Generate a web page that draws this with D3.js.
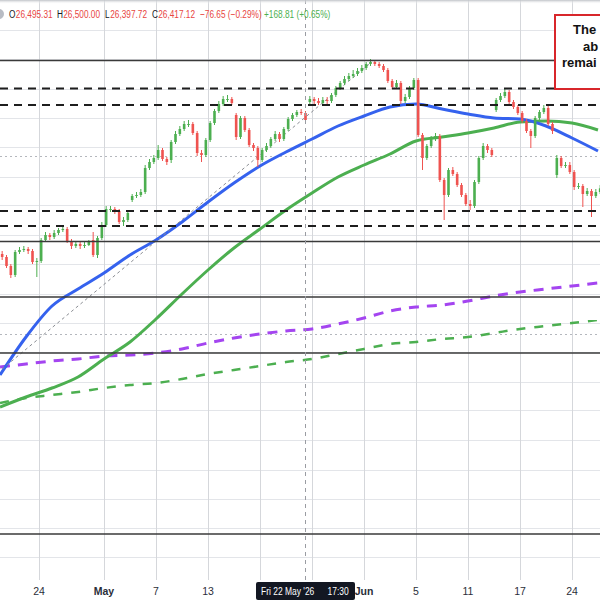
<!DOCTYPE html>
<html><head><meta charset="utf-8">
<script src="https://cdn.jsdelivr.net/npm/d3@7"></script>
<style>html,body{margin:0;padding:0;background:#fff;}svg{display:block;}</style>
</head><body>
<svg id="c" width="600" height="600"></svg>
<script>
// ---------- DATA ----------
const barsPerDay = 3;          // candles per trading day
const firstDay = -3;           // trading-day index of first visible bar (0 = Fri 24 Apr)
const opens = [25760,25730,25640,25550,25780,25800,25810,25790,25680,25690,
25900,25950,25930,25970,26000,26010,25890,25840,25860,25840,
25850,25900,25750,25920,26050,26210,26210,26190,26080,26100,
26300,26340,26350,26380,26620,26680,26720,26800,26710,26700,
26880,26960,27010,27060,27060,26970,26770,26750,26900,27070,
27190,27260,27310,27310,27150,26930,27120,27000,26850,26820,
26700,26800,26840,26910,26960,26910,27010,27110,27150,27180,
27170,27280,27310,27290,27270,27300,27290,27350,27420,27470,
27510,27540,27560,27590,27620,27660,27680,27660,27640,27600,
27490,27430,27470,27290,27330,27420,27500,26950,26720,26840,
26910,26940,26500,26350,26600,26560,26450,26350,26260,26240,
26480,26720,26840,26800,27200,27300,27340,27380,27280,27230,
27170,27090,26990,26940,27120,27180,27220,27060,26550,26720,
26640,26650,26580,26430,26440,26360,26390,26340,26380];
const highs = [25790,25750,25660,25800,25830,25840,25830,25810,25720,25920,
25980,25970,26000,26020,26040,26030,25910,25890,25880,25880,
25900,25980,25940,26080,26240,26240,26230,26210,26130,26190,
26360,26380,26410,26650,26710,26750,26850,26820,26730,26900,
26990,27040,27090,27100,27080,26990,26800,26920,27090,27210,
27290,27340,27350,27330,27170,27140,27140,27020,26870,26840,
26820,26870,26930,26990,26980,27030,27130,27170,27200,27210,
27190,27340,27330,27320,27330,27330,27370,27440,27490,27540,
27570,27600,27620,27650,27680,27710,27700,27680,27660,27620,
27510,27500,27490,27360,27440,27520,27520,26970,26860,26940,
26970,26960,26520,26620,26630,26580,26470,26370,26300,26500,
26740,26870,26860,26820,27320,27370,27420,27400,27300,27250,
27190,27110,27010,27140,27200,27250,27240,27080,26750,26740,
26680,26680,26600,26470,26460,26420,26410,26410,26450];
const lows = [25700,25620,25520,25530,25760,25780,25760,25660,25530,25670,
25890,25900,25910,25950,25980,25870,25810,25820,25810,25820,
25840,25730,25720,25900,26030,26180,26160,26060,26040,26080,
26280,26320,26330,26360,26600,26660,26700,26690,26650,26670,
26860,26940,26990,27030,26950,26740,26680,26730,26880,27050,
27170,27240,27280,27250,26900,26910,26980,26830,26790,26630,
26680,26780,26820,26890,26880,26890,26990,27090,27130,27150,
27080,27260,27260,27250,27250,27260,27270,27330,27400,27450,
27490,27520,27540,27570,27600,27640,27640,27620,27580,27470,
27410,27410,27260,27270,27310,27400,26930,26600,26700,26820,
26890,26480,26100,26330,26540,26430,26330,26240,26200,26220,
26460,26700,26770,26730,27180,27280,27320,27260,27210,27150,
27070,26970,26820,26920,27100,27160,27040,26960,26520,26620,
26620,26560,26400,26410,26230,26340,26130,26320,26360];
const closes = [25730,25640,25550,25780,25800,25810,25790,25680,25690,25900,
25950,25930,25970,26000,26010,25890,25840,25860,25840,25850,
25880,25750,25920,26050,26210,26210,26190,26080,26100,26170,
26340,26350,26380,26620,26680,26720,26800,26710,26680,26880,
26960,27010,27060,27060,26970,26770,26750,26900,27070,27190,
27260,27310,27310,27270,26930,27120,27000,26850,26820,26700,
26800,26840,26910,26960,26910,27010,27110,27150,27180,27170,
27100,27310,27290,27270,27300,27290,27350,27420,27470,27510,
27540,27560,27590,27620,27660,27680,27660,27640,27600,27490,
27430,27470,27290,27330,27420,27500,26950,26720,26840,26910,
26940,26500,26350,26600,26560,26450,26350,26260,26240,26480,
26720,26840,26800,26750,27300,27340,27380,27280,27230,27170,
27090,26990,26940,27120,27180,27220,27060,26990,26720,26640,
26650,26580,26430,26440,26360,26390,26340,26380,26417];

// moving averages sampled every 2 trading days
const maDays  = [-3,-1,1,3,5,7,9,11,13,15,17,19,21,23,25,27,29,31,33,35,37,39,41,43];
const ma100h  = [24550,24930,25240,25410,25570,25750,25900,26080,26280,26470,26640,26780,26910,27040,27140,27230,27260,27210,27160,27120,27110,27040,26920,26790];
const ma200h  = [24230,24330,24420,24530,24710,24880,25110,25360,25600,25820,26010,26200,26370,26530,26650,26760,26890,26930,26970,27020,27080,27090,27070,27000];
const ma100d  = [24630,24660,24690,24710,24740,24750,24770,24810,24870,24920,24960,24990,25010,25060,25120,25190,25230,25250,25290,25340,25380,25410,25440,25470];
const ma200d  = [24270,24320,24350,24380,24420,24450,24470,24510,24560,24600,24640,24680,24710,24760,24810,24860,24880,24910,24930,24970,25010,25040,25070,25100];

const trendDays   = [-3.2, 25.6];
const trendPrices = [24570, 27680];

const solidLevels  = [27695, 25885, 25330, 24770, 22960];
const dashedLevels = [27415, 27250, 26190, 26040];
const dottedLevels = [26740, 24960];
const gridPrices   = [28000,27710,27415,27125,26830,26535,26245,25950,25660,25365,25070,24780,24485,24195,23900,23605,23315,23020,22730];

const gridDays   = [0,5,9,13,17,21,25,29,33,37,41];
const tickDays   = [0,5,9,13,25,29,33,37,41];
const tickLabels = ["24","May","7","13","Jun","5","11","17","24"];
const monthTicks = ["May","Jun"];

const crossDay   = 20.46;
const crossTexts = ["Fri 22 May '26","17:30"];

const headerLabels = ["O","H","L","C"];
const headerValues = ["26,495.31","26,500.00","26,397.72","26,417.12"];
const headerChanges = ["\u221276.65 (\u22120.29%)","+168.81 (+0.65%)"];
// visible part of the note box (the box runs past the right edge)
const noteLines = ["The","ab","remai"];

// ---------- LAYOUT / STYLE ----------
const UP="#4caf50", DN="#ef5350";
const FONT="Liberation Sans, Arial, sans-serif";
const svg = d3.select("#c");
const plotH = 580;
const x = d3.scaleLinear().domain([-3, 43.1538]).range([0, 600]);
const y = d3.scaleLinear().domain([22500, 28300]).range([580, 0]);

svg.append("rect").attr("width",600).attr("height",600).attr("fill","#fff");
const defs = svg.append("defs");
defs.append("clipPath").attr("id","plot").append("rect").attr("width",600).attr("height",plotH);
const plot = svg.append("g").attr("clip-path","url(#plot)");

// grid
plot.selectAll("line.hg").data(gridPrices).join("line").attr("class","hg")
  .attr("x1",0).attr("x2",600)
  .attr("y1",d=>Math.round(y(d))+0.5).attr("y2",d=>Math.round(y(d))+0.5)
  .attr("stroke","#e3e5e9").attr("stroke-width",1);
plot.selectAll("line.vg").data(gridDays).join("line").attr("class","vg")
  .attr("x1",d=>Math.round(x(d))+0.5).attr("x2",d=>Math.round(x(d))+0.5)
  .attr("y1",0).attr("y2",plotH)
  .attr("stroke","#d5d7db").attr("stroke-width",1);
plot.selectAll("line.dl").data(dottedLevels).join("line").attr("class","dl")
  .attr("x1",0).attr("x2",600)
  .attr("y1",d=>Math.round(y(d))+0.5).attr("y2",d=>Math.round(y(d))+0.5)
  .attr("stroke","#b4b7bd").attr("stroke-width",1).attr("stroke-dasharray","2,3");

// moving averages
const maLine = d3.line().x((d,i)=>x(maDays[i])).y(d=>y(d)).curve(d3.curveMonotoneX);
plot.append("path").attr("d",maLine(ma200d)).attr("fill","none")
  .attr("stroke","#4caf50").attr("stroke-width",2.5).attr("stroke-dasharray","9,9");
plot.append("path").attr("d",maLine(ma100d)).attr("fill","none")
  .attr("stroke","#a445f0").attr("stroke-width",3).attr("stroke-dasharray","10,8");
plot.append("path").attr("d",maLine(ma200h)).attr("fill","none")
  .attr("stroke","#4caf50").attr("stroke-width",3);
plot.append("path").attr("d",maLine(ma100h)).attr("fill","none")
  .attr("stroke","#3562ee").attr("stroke-width",3);

// trend line
plot.append("line")
  .attr("x1",x(trendDays[0])).attr("y1",y(trendPrices[0]))
  .attr("x2",x(trendDays[1])).attr("y2",y(trendPrices[1]))
  .attr("stroke","#8a8d93").attr("stroke-width",1).attr("stroke-dasharray","3,3");

// candles
const bars = closes.map((c,i)=>({i,o:opens[i],h:highs[i],l:lows[i],c}));
const bw = 2.6;
const bx = d=>x(firstDay+(d.i+0.5)/barsPerDay);
const cg = plot.selectAll("g.cd").data(bars).join("g").attr("class","cd");
cg.append("line")
  .attr("x1",bx).attr("x2",bx)
  .attr("y1",d=>y(d.h)).attr("y2",d=>y(d.l))
  .attr("stroke",d=>d.c>=d.o?UP:DN).attr("stroke-width",1);
cg.append("rect")
  .attr("x",d=>bx(d)-bw/2).attr("width",bw)
  .attr("y",d=>y(Math.max(d.o,d.c)))
  .attr("height",d=>Math.max(1,Math.abs(y(d.o)-y(d.c))))
  .attr("fill",d=>d.c>=d.o?UP:DN);

// level lines
plot.selectAll("line.sl").data(solidLevels).join("line").attr("class","sl")
  .attr("x1",0).attr("x2",600).attr("y1",d=>y(d)).attr("y2",d=>y(d))
  .attr("stroke","#3a3a3a").attr("stroke-width",1.5);
plot.selectAll("line.dsl").data(dashedLevels).join("line").attr("class","dsl")
  .attr("x1",0).attr("x2",600).attr("y1",d=>y(d)).attr("y2",d=>y(d))
  .attr("stroke","#1e1e1e").attr("stroke-width",2).attr("stroke-dasharray","8,6");

// crosshair
plot.append("line").attr("x1",Math.round(x(crossDay))+0.5).attr("x2",Math.round(x(crossDay))+0.5)
  .attr("y1",0).attr("y2",plotH).attr("stroke","#9a9ca2").attr("stroke-width",1).attr("stroke-dasharray","4,4");

// top shadow
const grad = defs.append("linearGradient").attr("id","sh").attr("x1",0).attr("x2",0).attr("y1",0).attr("y2",1);
grad.append("stop").attr("offset","0%").attr("stop-color","#bfc2c7");
grad.append("stop").attr("offset","100%").attr("stop-color","#ffffff").attr("stop-opacity",0);
svg.append("rect").attr("x",0).attr("y",0).attr("width",600).attr("height",4).attr("fill","url(#sh)");

// header legend (horizontally condensed like the reference)
svg.append("circle").attr("cx",-1).attr("cy",14).attr("r",5).attr("fill","#b8bcc4");
const SX = 0.72;
function condText(parent, tx, ty, sx, txt, color, size, weight){
  parent.append("g").attr("transform",`translate(${tx},${ty}) scale(${sx},1)`)
    .append("text").attr("x",0).attr("y",0)
    .attr("font-family",FONT).attr("font-size",size).attr("font-weight",weight||"normal")
    .attr("fill",color).text(txt);
}
const labX = [9,57,105,152], valX = [15.8,63.2,110.2,158.2];
headerLabels.forEach((t,i)=>condText(svg,labX[i],17.5,SX,t,"#131722",11.5));
headerValues.forEach((t,i)=>condText(svg,valX[i],17.5,SX,t,"#e8463f",11.5));
const chgX = [200,264], chgC = ["#e8463f","#4caf50"];
headerChanges.forEach((t,i)=>condText(svg,chgX[i],17.5,SX,t,chgC[i],11.5));

// annotation box
svg.append("rect").attr("x",555).attr("y",15).attr("width",70).attr("height",74)
  .attr("fill","#fff").attr("stroke","#d8262b").attr("stroke-width",2);
const nx=[573,583,562], ny=[34,51,67];
svg.selectAll("text.nt").data(noteLines).join("text").attr("class","nt")
  .attr("x",(d,i)=>nx[i]).attr("y",(d,i)=>ny[i])
  .attr("font-family",FONT).attr("font-size",13)
  .attr("font-weight","bold").attr("fill","#111").text(d=>d);

// x axis
svg.append("rect").attr("x",0).attr("y",plotH).attr("width",600).attr("height",20).attr("fill","#fff");
svg.selectAll("text.xt").data(tickLabels).join("text").attr("class","xt")
  .attr("x",(d,i)=>x(tickDays[i])).attr("y",595).attr("text-anchor","middle")
  .attr("font-family",FONT).attr("font-size",10.5)
  .attr("font-weight",d=>monthTicks.includes(d)?"bold":"normal")
  .attr("fill","#2a2e39").text(d=>d);

// crosshair time label
svg.append("rect").attr("x",256).attr("y",582).attr("width",99).attr("height",18).attr("rx",2).attr("fill","#131722");
condText(svg,261,595,0.77,crossTexts[0],"#fff",11);
condText(svg,327.5,595,0.77,crossTexts[1],"#fff",11);
</script>
</body></html>
